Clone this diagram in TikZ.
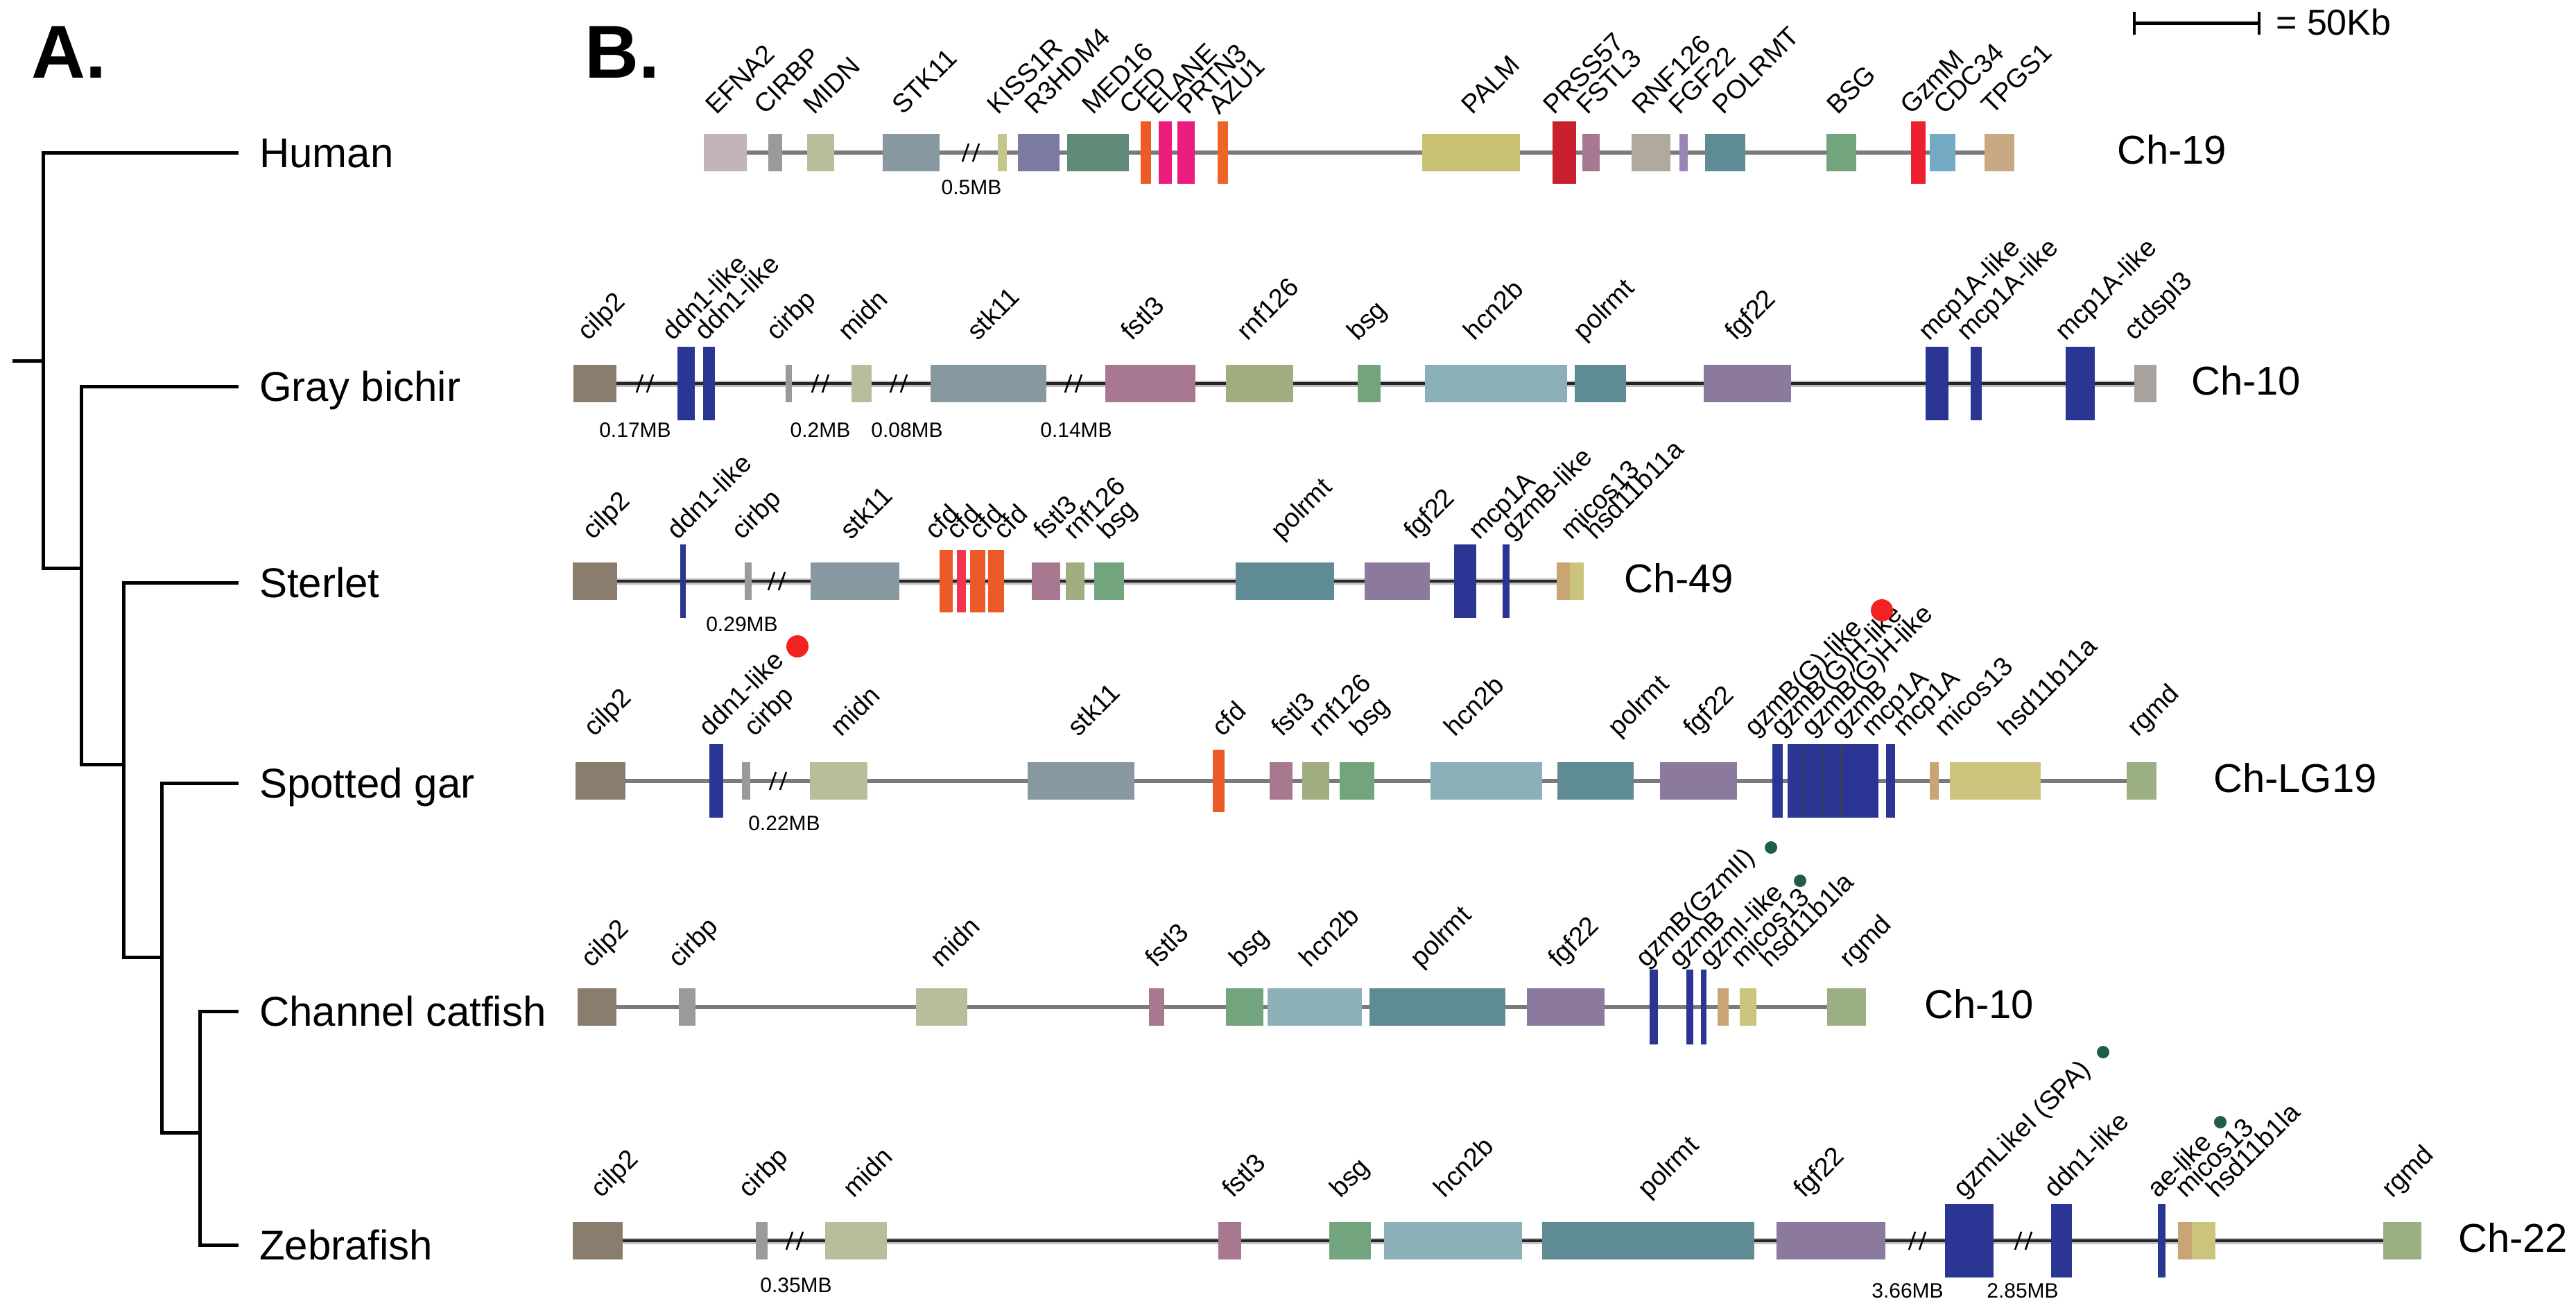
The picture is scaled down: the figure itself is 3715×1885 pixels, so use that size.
\documentclass[tikz,border=0pt]{standalone}
\usepackage{fontspec}
\setmainfont{Liberation Sans}
\definecolor{cCilp}{HTML}{8B7D6E}
\definecolor{cEfna}{HTML}{C3B3BB}
\definecolor{cCirbp}{HTML}{9A9A9A}
\definecolor{cMidn}{HTML}{B8BD9C}
\definecolor{cStk}{HTML}{8898A0}
\definecolor{cKiss}{HTML}{C5C58C}
\definecolor{cRthree}{HTML}{7A7AA2}
\definecolor{cMed}{HTML}{5F8B78}
\definecolor{cCfd}{HTML}{EC5A28}
\definecolor{cCfdB}{HTML}{F2364A}
\definecolor{cElane}{HTML}{EC1C7C}
\definecolor{cAzu}{HTML}{EE6426}
\definecolor{cPalm}{HTML}{C9C172}
\definecolor{cPrss}{HTML}{C8202C}
\definecolor{cFstl}{HTML}{A87890}
\definecolor{cRnfH}{HTML}{B0A99E}
\definecolor{cRnf}{HTML}{A0AD7E}
\definecolor{cFgfH}{HTML}{9A86B4}
\definecolor{cFgf}{HTML}{8C7A9E}
\definecolor{cPol}{HTML}{5F8B95}
\definecolor{cBsg}{HTML}{72A47E}
\definecolor{cGzmM}{HTML}{EC2030}
\definecolor{cCdc}{HTML}{74AAC4}
\definecolor{cTpg}{HTML}{C8A984}
\definecolor{cHcn}{HTML}{8BB0B8}
\definecolor{cBlue}{HTML}{2B3593}
\definecolor{cCtd}{HTML}{A9A19D}
\definecolor{cMic}{HTML}{C9A475}
\definecolor{cHsd}{HTML}{CAC47C}
\definecolor{cRgmd}{HTML}{9BAF82}
\definecolor{cDot}{HTML}{1F5C4A}
\definecolor{cRedDot}{HTML}{F22222}
\newcommand{\rowy}{0}
\newcommand{\laboff}{60}
% #1 name, #2 x1, #3 x2, #4 half height, #5 colour, #6 label, #7 label x
\newcommand{\gene}[7]{%
  \fill[#5] (#2,\rowy-#4) rectangle (#3,\rowy+#4);
  \node[glab] (#1) at (#7,\rowy-\laboff) {#6};}
\newcommand{\brk}[1]{%
  \draw[brkline] (#1-12,\rowy+13) -- (#1-3,\rowy-13) (#1+3,\rowy+13) -- (#1+12,\rowy-13);}
\begin{document}
\begin{tikzpicture}[x=1pt,y=-1pt,
  glab/.style={anchor=base west,rotate=45,inner sep=0pt,font=\fontsize{38}{40}\selectfont},
  spc/.style={anchor=base west,inner sep=0pt,font=\fontsize{60}{66}\selectfont},
  chr/.style={anchor=west,inner sep=0pt,font=\fontsize{58}{64}\selectfont},
  mb/.style={anchor=center,inner sep=0pt,font=\fontsize{30}{32}\selectfont},
  panel/.style={anchor=base west,inner sep=0pt,font=\fontsize{108}{110}\selectfont\bfseries},
  tree/.style={line width=5pt,line cap=rect,line join=miter},
  bbgray/.style={line width=6pt,color=black!52},
  bbhalo/.style={line width=9pt,color=black!25},
  bbdark/.style={line width=3.5pt,color=black!85},
  brkline/.style={line width=2.5pt,black},
  sepline/.style={line width=1.2pt,black!75},
  reddot/.style={fill=cRedDot},
  grndot/.style={fill=cDot}]
\useasboundingbox (0,0) rectangle (3715,1885);
\fill[white] (0,0) rectangle (3715,1885);

% ---------------- panel A : tree ----------------
\node[panel] (pA) at (45,112) {A.};
\coordinate (root) at (20,520);
\coordinate (n1) at (62,520);
\coordinate (n2) at (117,819);
\coordinate (n3) at (178,1102);
\coordinate (n4) at (233,1380);
\coordinate (n5) at (288,1633);
\coordinate (eH) at (341,220);
\coordinate (eB) at (341,557);
\coordinate (eS) at (341,840);
\coordinate (eG) at (341,1129);
\coordinate (eC) at (341,1458);
\coordinate (eZ) at (341,1795);
\draw[tree] (root) -- (n1);
\draw[tree] (eH) -- (62,220) -- (62,819) -- (n2);
\draw[tree] (eB) -- (117,557) -- (117,1102) -- (n3);
\draw[tree] (eS) -- (178,840) -- (178,1380) -- (n4);
\draw[tree] (eG) -- (233,1129) -- (233,1633) -- (n5);
\draw[tree] (eC) -- (288,1458) -- (288,1795) -- (eZ);
\node[spc] (sH) at (374,241) {Human};
\node[spc] (sB) at (374,578) {Gray bichir};
\node[spc] (sS) at (374,861) {Sterlet};
\node[spc] (sG) at (374,1150) {Spotted gar};
\node[spc] (sC) at (374,1479) {Channel catfish};
\node[spc] (sZ) at (374,1816) {Zebrafish};

% ---------------- panel B ----------------
\node[panel] (pB) at (843,112) {B.};
% scale bar
\draw[line width=5pt] (3078,33) -- (3258,33);
\draw[line width=4pt] (3078,17) -- (3078,50) (3258,17) -- (3258,50);
\node[anchor=base west,inner sep=0pt,font=\fontsize{52}{56}\selectfont] (scl) at (3282,50) {= 50Kb};

% ===== Human =====
\renewcommand{\rowy}{220}\renewcommand{\laboff}{53}
\draw[bbgray] (1015,220) -- (2905,220);
\brk{1400}
\node[mb] (hmb) at (1401,270) {0.5MB};
\gene{h1}{1015}{1077}{27}{cEfna}{EFNA2}{1033}
\gene{h2}{1108}{1128}{27}{cCirbp}{CIRBP}{1103}
\gene{h3}{1164}{1203}{27}{cMidn}{MIDN}{1174}
\gene{h4}{1273}{1355}{27}{cStk}{STK11}{1302}
\gene{h5}{1439}{1452}{27}{cKiss}{KISS1R}{1439}
\gene{h6}{1468}{1528}{27}{cRthree}{R3HDM4}{1493}
\gene{h7}{1539}{1628}{27}{cMed}{MED16}{1576}
\gene{h8}{1645}{1660}{45}{cCfd}{CFD}{1630}
\gene{h9}{1671}{1690}{45}{cElane}{ELANE}{1669}
\gene{h10}{1698}{1723}{45}{cElane}{PRTN3}{1713}
\gene{h11}{1756}{1771}{45}{cAzu}{AZU1}{1758}
\gene{h12}{2051}{2192}{27}{cPalm}{PALM}{2123}
\gene{h13}{2239}{2273}{45}{cPrss}{PRSS57}{2241}
\gene{h14}{2282}{2307}{27}{cFstl}{FSTL3}{2289}
\gene{h15}{2353}{2409}{27}{cRnfH}{RNF126}{2369}
\gene{h16}{2422}{2434}{27}{cFgfH}{FGF22}{2422}
\gene{h17}{2459}{2517}{27}{cPol}{POLRMT}{2485}
\gene{h18}{2634}{2677}{27}{cBsg}{BSG}{2650}
\gene{h19}{2756}{2777}{45}{cGzmM}{GzmM}{2756}
\gene{h20}{2783}{2820}{27}{cCdc}{CDC34}{2804}
\gene{h21}{2862}{2905}{27}{cTpg}{TPGS1}{2873}
\node[chr] (chH) at (3053,216) {Ch-19};

% ===== Gray bichir =====
\renewcommand{\rowy}{553}\renewcommand{\laboff}{60}
\draw[bbhalo] (827,553) -- (3110,553);
\draw[bbdark] (827,553) -- (3110,553);
\brk{930}\brk{1183}\brk{1296}\brk{1548}
\node[mb] (bmb1) at (916,620) {0.17MB};
\node[mb] (bmb2) at (1183,620) {0.2MB};
\node[mb] (bmb3) at (1308,620) {0.08MB};
\node[mb] (bmb4) at (1552,620) {0.14MB};
\gene{b1}{827}{889}{27}{cCilp}{cilp2}{848}
\gene{b2}{977}{1002}{53}{cBlue}{ddn1-like}{970}
\gene{b3}{1014}{1031}{53}{cBlue}{ddn1-like}{1017}
\gene{b4}{1133}{1142}{27}{cCirbp}{cirbp}{1120}
\gene{b5}{1228}{1257}{27}{cMidn}{midn}{1224}
\gene{b6}{1342}{1509}{27}{cStk}{stk11}{1410}
\gene{b7}{1594}{1724}{27}{cFstl}{fstl3}{1632}
\gene{b8}{1768}{1865}{27}{cRnf}{rnf126}{1799}
\gene{b9}{1958}{1991}{27}{cBsg}{bsg}{1958}
\gene{b10}{2055}{2260}{27}{cHcn}{hcn2b}{2126}
\gene{b11}{2271}{2345}{27}{cPol}{polrmt}{2284}
\gene{b12}{2457}{2583}{27}{cFgf}{fgf22}{2503}
\gene{b13}{2777}{2810}{53}{cBlue}{mcp1A-like}{2782}
\gene{b14}{2842}{2858}{53}{cBlue}{mcp1A-like}{2837}
\gene{b15}{2979}{3021}{53}{cBlue}{mcp1A-like}{2979}
\gene{b16}{3078}{3110}{27}{cCtd}{ctdspl3}{3078}
\node[chr] (chB) at (3160,549) {Ch-10};

% ===== Sterlet =====
\renewcommand{\rowy}{838}\renewcommand{\laboff}{58}
\draw[bbhalo] (826,838) -- (2284,838);
\draw[bbdark] (826,838) -- (2284,838);
\brk{1120}
\node[mb] (smb) at (1070,900) {0.29MB};
\gene{s1}{826}{890}{27}{cCilp}{cilp2}{855}
\gene{s2}{981}{989}{53}{cBlue}{ddn1-like}{977}
\gene{s3}{1074}{1084}{27}{cCirbp}{cirbp}{1070}
\gene{s4}{1169}{1297}{27}{cStk}{stk11}{1227}
\gene{s5}{1355}{1374}{45}{cCfd}{cfd}{1349}
\gene{s6}{1380}{1393}{45}{cCfdB}{cfd}{1380}
\gene{s7}{1399}{1421}{45}{cCfd}{cfd}{1413}
\gene{s8}{1425}{1448}{45}{cCfd}{cfd}{1448}
\gene{s9}{1488}{1529}{27}{cFstl}{fstl3}{1506}
\gene{s10}{1537}{1564}{27}{cRnf}{rnf126}{1549}
\gene{s11}{1578}{1621}{27}{cBsg}{bsg}{1598}
\gene{s12}{1782}{1924}{27}{cPol}{polrmt}{1848}
\gene{s13}{1968}{2062}{27}{cFgf}{fgf22}{2040}
\gene{s14}{2097}{2129}{53}{cBlue}{mcp1A}{2133}
\gene{s15}{2167}{2177}{53}{cBlue}{gzmB-like}{2180}
\gene{s16}{2245}{2264}{27}{cMic}{micos13}{2266}
\gene{s17}{2264}{2284}{27}{cHsd}{hsd11b11a}{2301}
\node[chr] (chS) at (2342,834) {Ch-49};

% ===== Spotted gar =====
\renewcommand{\rowy}{1126}\renewcommand{\laboff}{62}
\draw[bbgray] (830,1126) -- (3110,1126);
\brk{1122}
\node[mb] (gmb) at (1131,1187) {0.22MB};
\gene{g1}{830}{902}{27}{cCilp}{cilp2}{857}
\gene{g2}{1023}{1043}{53}{cBlue}{ddn1-like}{1023}
\gene{g3}{1070}{1082}{27}{cCirbp}{cirbp}{1088}
\gene{g4}{1168}{1251}{27}{cMidn}{midn}{1213}
\gene{g5}{1482}{1636}{27}{cStk}{stk11}{1555}
\gene{g6}{1749}{1766}{45}{cCfd}{cfd}{1763}
\gene{g7}{1831}{1864}{27}{cFstl}{fstl3}{1849}
\gene{g8}{1878}{1917}{27}{cRnf}{rnf126}{1903}
\gene{g9}{1932}{1982}{27}{cBsg}{bsg}{1962}
\gene{g10}{2063}{2224}{27}{cHcn}{hcn2b}{2098}
\gene{g11}{2246}{2356}{27}{cPol}{polrmt}{2334}
\gene{g12}{2394}{2505}{27}{cFgf}{fgf22}{2443}
\gene{g13}{2556}{2571}{53}{cBlue}{gzmB(G)-like}{2531}
\gene{g14}{2578}{2601}{53}{cBlue}{gzmB(G)H-like}{2569}
\gene{g15}{2601}{2630}{53}{cBlue}{gzmB(G)H-like}{2613}
\gene{g16}{2630}{2655}{53}{cBlue}{gzmB}{2656}
\gene{g17}{2655}{2709}{53}{cBlue}{mcp1A}{2700}
\gene{g18}{2720}{2733}{53}{cBlue}{mcp1A}{2745}
\draw[sepline] (2601,1073) -- (2601,1179) (2630,1073) -- (2630,1179) (2655,1073) -- (2655,1179);
\gene{g19}{2783}{2796}{27}{cMic}{micos13}{2805}
\gene{g20}{2812}{2943}{27}{cHsd}{hsd11b11a}{2897}
\gene{g21}{3067}{3110}{27}{cRgmd}{rgmd}{3083}
\node[chr] (chG) at (3192,1122) {Ch-LG19};
\fill[reddot] (1150,932) circle[radius=16pt];
\fill[reddot] (2714,880) circle[radius=16pt];

% ===== Channel catfish =====
\renewcommand{\rowy}{1452}\renewcommand{\laboff}{55}
\draw[bbgray] (833,1452) -- (2691,1452);
\gene{c1}{833}{889}{27}{cCilp}{cilp2}{853}
\gene{c2}{979}{1003}{27}{cCirbp}{cirbp}{979}
\gene{c3}{1321}{1395}{27}{cMidn}{midn}{1357}
\gene{c4}{1657}{1679}{27}{cFstl}{fstl3}{1667}
\gene{c5}{1768}{1822}{27}{cBsg}{bsg}{1788}
\gene{c6}{1828}{1964}{27}{cHcn}{hcn2b}{1889}
\gene{c7}{1975}{2171}{27}{cPol}{polrmt}{2049}
\gene{c8}{2202}{2314}{27}{cFgf}{fgf22}{2248}
\gene{c9}{2379}{2391}{54}{cBlue}{gzmB(GzmII)}{2374}
\gene{c10}{2432}{2442}{54}{cBlue}{gzmB}{2422}
\gene{c11}{2453}{2461}{54}{cBlue}{gzmI-like}{2466}
\gene{c12}{2477}{2493}{27}{cMic}{micos13}{2511}
\gene{c13}{2509}{2533}{27}{cHsd}{hsd11b1la}{2553}
\gene{c14}{2635}{2691}{27}{cRgmd}{rgmd}{2668}
\node[chr] (chC) at (2775,1448) {Ch-10};
\fill[grndot] (2554,1222) circle[radius=9pt];
\fill[grndot] (2596,1270) circle[radius=9pt];

% ===== Zebrafish =====
\renewcommand{\rowy}{1789}\renewcommand{\laboff}{60}
\draw[bbhalo] (826,1789) -- (3492,1789);
\draw[bbdark] (826,1789) -- (3492,1789);
\brk{1146}\brk{2765}\brk{2918}
\node[mb] (zmb1) at (1148,1853) {0.35MB};
\node[mb] (zmb2) at (2751,1861) {3.66MB};
\node[mb] (zmb3) at (2917,1861) {2.85MB};
\gene{z1}{826}{898}{27}{cCilp}{cilp2}{867}
\gene{z2}{1090}{1107}{27}{cCirbp}{cirbp}{1080}
\gene{z3}{1190}{1279}{27}{cMidn}{midn}{1231}
\gene{z4}{1757}{1790}{27}{cFstl}{fstl3}{1778}
\gene{z5}{1917}{1977}{27}{cBsg}{bsg}{1933}
\gene{z6}{1996}{2195}{27}{cHcn}{hcn2b}{2083}
\gene{z7}{2224}{2530}{27}{cPol}{polrmt}{2377}
\gene{z8}{2562}{2719}{27}{cFgf}{fgf22}{2602}
\gene{z9}{2805}{2875}{53}{cBlue}{gzmLikeI (SPA)}{2832}
\gene{z10}{2958}{2988}{53}{cBlue}{ddn1-like}{2963}
\gene{z11}{3112}{3123}{53}{cBlue}{ae-like}{3112}
\gene{z12}{3141}{3161}{27}{cMic}{micos13}{3152}
\gene{z13}{3161}{3195}{27}{cHsd}{hsd11b1la}{3197}
\gene{z14}{3437}{3492}{27}{cRgmd}{rgmd}{3450}
\node[chr] (chZ) at (3545,1785) {Ch-22};
\fill[grndot] (3033,1517) circle[radius=9pt];
\fill[grndot] (3202,1618) circle[radius=9pt];
\end{tikzpicture}
\end{document}
